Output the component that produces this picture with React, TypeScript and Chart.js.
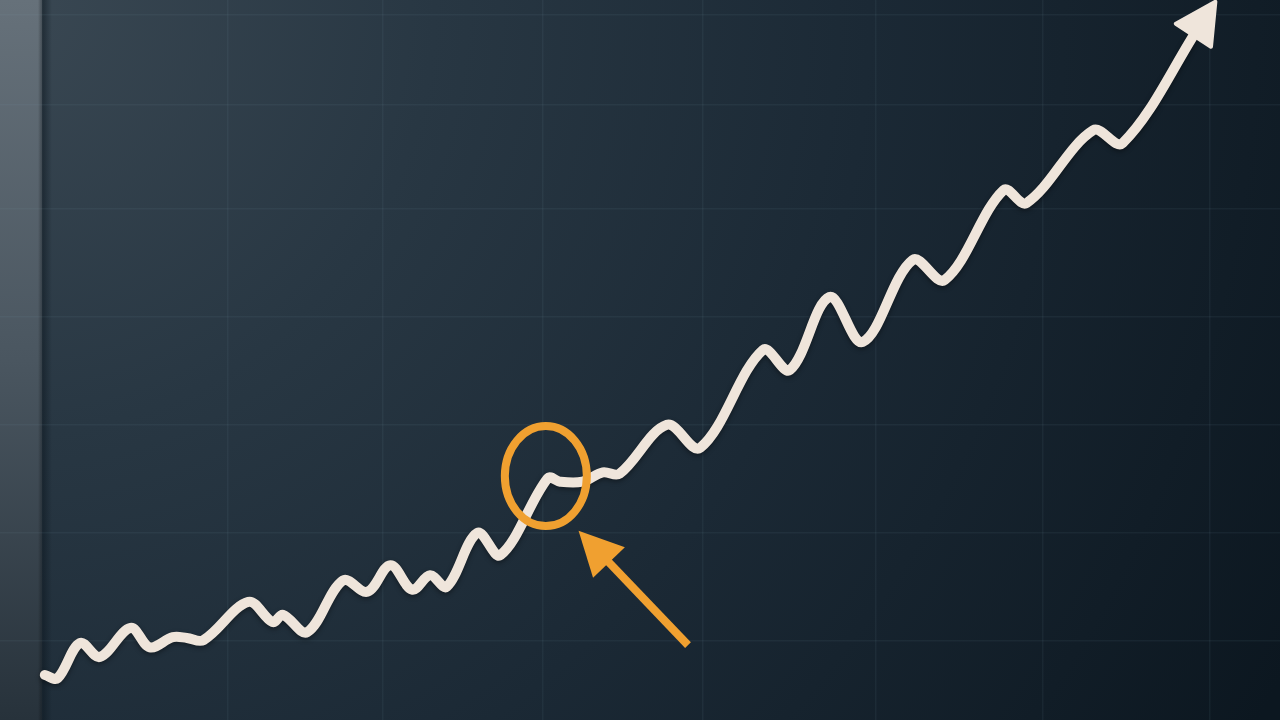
import React, { useEffect, useRef } from "react";
import { Chart, registerables } from "chart.js";

Chart.register(...registerables);

// Series (x = time units, y = value)
const xs = [3.5, 4.5, 6.25, 7.8, 10.2, 11.7, 13.5, 14.6, 15.9, 19.4, 21.3, 22.1, 24.0, 26.8, 28.7, 30.5, 32.2, 33.6, 34.9, 37.3, 39.1, 42.8, 43.75, 45.5, 47.1, 48.4, 52.1, 54.7, 59.6, 61.7, 64.8, 67.4, 71.3, 73.8, 78.4, 80.2, 85.4, 87.7, 93.75];
const ys = [6.25, 5.8, 10.7, 8.75, 12.8, 10.1, 11.5, 11.4, 11.1, 16.4, 13.6, 14.6, 12.2, 19.4, 17.8, 21.5, 18.1, 20.1, 18.5, 26.0, 22.9, 33.6, 33.1, 33.1, 34.4, 34.2, 41.0, 37.8, 51.4, 48.6, 58.75, 52.5, 63.9, 61.1, 73.6, 71.8, 81.9, 80.1, 96.5];

// Grid tick values
const gridX = [17.8, 29.9, 42.4, 54.9, 68.4, 81.5, 94.5];
const gridY = [11, 26, 41, 56, 71, 85.5, 98];

// Highlighted point index and callout arrow (data units)
const highlightIndex = 21;
const calloutTail = { x: 53.75, y: 10.4 };
const calloutTip = { x: 45.2, y: 26.3 };

const LINE_COLOR = "#efe5db";
const ORANGE = "#f0a030";

const backgroundPlugin = {
  id: "bg",
  beforeDraw(chart: any) {
    const { ctx, width, height } = chart;
    ctx.save();
    const g = ctx.createRadialGradient(0, 0, 0, 0, 0, 1450);
    g.addColorStop(0, "#3a4853");
    g.addColorStop(0.3, "#283743");
    g.addColorStop(0.6, "#1b2935");
    g.addColorStop(1, "#0c1720");
    ctx.fillStyle = g;
    ctx.fillRect(0, 0, width, height);
    // left bezel strip
    const s = ctx.createLinearGradient(0, 0, 0, height);
    s.addColorStop(0, "#66717a");
    s.addColorStop(0.5, "#4a5660");
    s.addColorStop(1, "#27323b");
    ctx.fillStyle = s;
    ctx.fillRect(0, 0, 42, height);
    const e = ctx.createLinearGradient(38, 0, 52, 0);
    e.addColorStop(0, "rgba(0,0,0,0)");
    e.addColorStop(0.4, "rgba(10,20,28,0.45)");
    e.addColorStop(1, "rgba(10,20,28,0)");
    ctx.fillStyle = e;
    ctx.fillRect(38, 0, 14, height);
    ctx.restore();
  },
};

const shadowPlugin = {
  id: "lineShadow",
  beforeDatasetsDraw(chart: any) {
    const ctx = chart.ctx;
    ctx.save();
    ctx.shadowColor = "rgba(0,0,0,0.4)";
    ctx.shadowBlur = 5;
    ctx.shadowOffsetY = 2;
  },
  afterDatasetsDraw(chart: any) {
    const ctx = chart.ctx;
    ctx.restore();
    const meta = chart.getDatasetMeta(0);
    const pts = meta.data;
    const a = pts[pts.length - 2];
    const b = pts[pts.length - 1];
    // arrow head at the end of the line
    let dx = b.x - a.x;
    let dy = b.y - a.y;
    const len = Math.hypot(dx, dy);
    dx /= len;
    dy /= len;
    const headLen = 40;
    const half = 21;
    const tipX = b.x + dx * (headLen - 12);
    const tipY = b.y + dy * (headLen - 12);
    const baseX = tipX - dx * headLen;
    const baseY = tipY - dy * headLen;
    ctx.save();
    ctx.fillStyle = LINE_COLOR;
    ctx.strokeStyle = LINE_COLOR;
    ctx.lineJoin = "round";
    ctx.lineWidth = 4;
    ctx.beginPath();
    ctx.moveTo(tipX, tipY);
    ctx.lineTo(baseX - dy * half, baseY + dx * half);
    ctx.lineTo(baseX + dy * half, baseY - dx * half);
    ctx.closePath();
    ctx.fill();
    ctx.stroke();
    ctx.restore();

    // orange highlight ring + callout arrow
    const xScale = chart.scales.x;
    const yScale = chart.scales.y;
    const hp = pts[highlightIndex];
    ctx.save();
    ctx.strokeStyle = ORANGE;
    ctx.lineWidth = 8;
    ctx.beginPath();
    ctx.ellipse(hp.x - 2, hp.y - 2, 41, 50, 0, 0, Math.PI * 2);
    ctx.stroke();

    const tx = xScale.getPixelForValue(calloutTail.x);
    const ty = yScale.getPixelForValue(calloutTail.y);
    const px = xScale.getPixelForValue(calloutTip.x);
    const py = yScale.getPixelForValue(calloutTip.y);
    let ux = px - tx;
    let uy = py - ty;
    const ul = Math.hypot(ux, uy);
    ux /= ul;
    uy /= ul;
    const aLen = 44;
    const aHalf = 22;
    const bx = px - ux * aLen;
    const by = py - uy * aLen;
    ctx.lineWidth = 8;
    ctx.lineCap = "butt";
    ctx.beginPath();
    ctx.moveTo(tx, ty);
    ctx.lineTo(bx + ux * 4, by + uy * 4);
    ctx.stroke();
    ctx.fillStyle = ORANGE;
    ctx.beginPath();
    ctx.moveTo(px, py);
    ctx.lineTo(bx - uy * aHalf, by + ux * aHalf);
    ctx.lineTo(bx + uy * aHalf, by - ux * aHalf);
    ctx.closePath();
    ctx.fill();
    ctx.restore();
  },
};

export default function App() {
  const ref = useRef<HTMLCanvasElement | null>(null);
  useEffect(() => {
    if (!ref.current) return;
    const data = xs.map((x, i) => ({ x, y: ys[i] }));
    const gridColor = "rgba(130,160,180,0.08)";
    const chart = new Chart(ref.current, {
      type: "line",
      data: {
        datasets: [
          {
            data,
            borderColor: LINE_COLOR,
            borderWidth: 10,
            tension: 0.35,
            pointRadius: 0,
            borderCapStyle: "round",
            borderJoinStyle: "round",
            clip: false,
            fill: false,
          } as any,
        ],
      },
      options: {
        responsive: false,
        animation: false,
        devicePixelRatio: 1,
        layout: { padding: 0 },
        plugins: { legend: { display: false }, tooltip: { enabled: false } },
        scales: {
          x: {
            type: "linear",
            min: 0,
            max: 100,
            border: { display: false },
            ticks: { display: false },
            grid: { color: gridColor, lineWidth: 1.5, drawTicks: false },
            afterBuildTicks: (s: any) => {
              s.ticks = gridX.map((v) => ({ value: v }));
            },
          },
          y: {
            type: "linear",
            min: 0,
            max: 100,
            border: { display: false },
            ticks: { display: false },
            grid: { color: gridColor, lineWidth: 1.5, drawTicks: false },
            afterBuildTicks: (s: any) => {
              s.ticks = gridY.map((v) => ({ value: v }));
            },
          },
        },
      },
      plugins: [backgroundPlugin, shadowPlugin],
    });
    return () => chart.destroy();
  }, []);
  return (
    <div style={{ position: "fixed", left: 0, top: 0, width: 1280, height: 720, background: "#1b2935" }}>
      <canvas ref={ref} width={1280} height={720} />
    </div>
  );
}
